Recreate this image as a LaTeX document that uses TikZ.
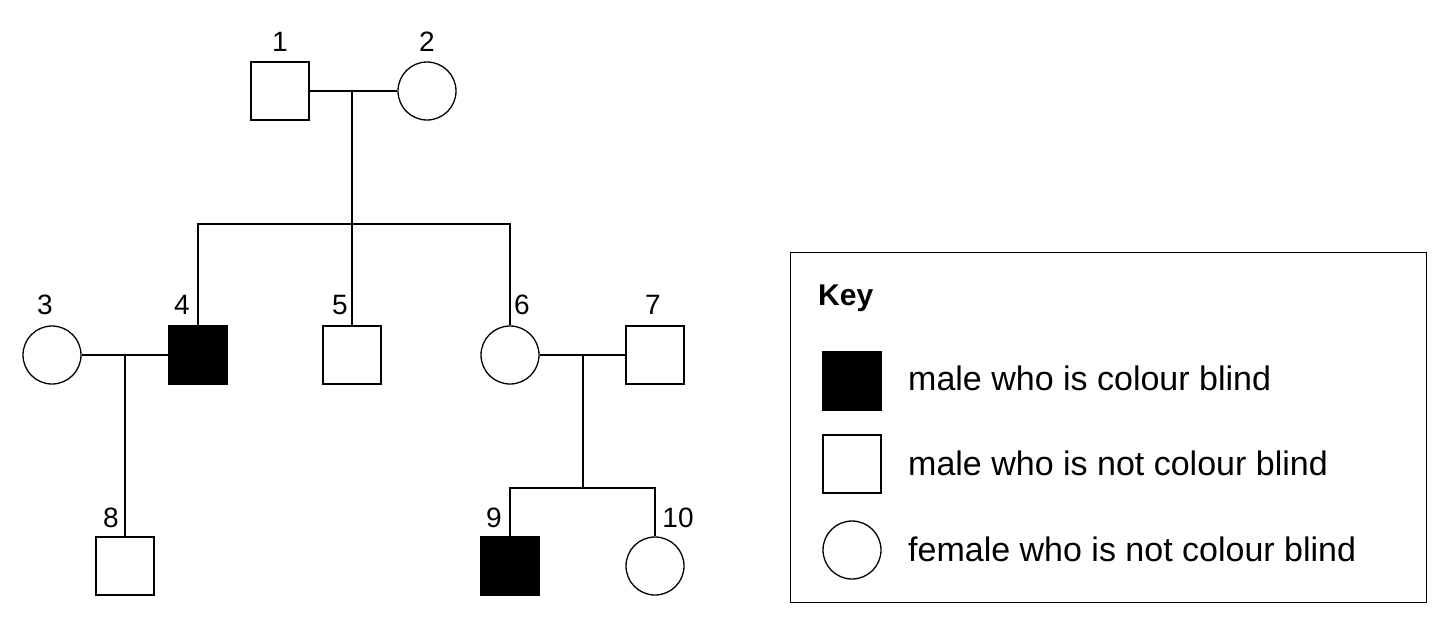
\documentclass[tikz,border=0pt]{standalone}
\usepackage{fontspec}
\setmainfont{Liberation Sans}
\begin{document}
\begin{tikzpicture}[x=1pt,y=-1pt,
  male/.style={draw,line width=1.3pt,minimum size=58pt,inner sep=0pt},
  cb/.style={male,fill=black},
  fem/.style={draw,circle,line width=1.3pt,minimum size=58pt,inner sep=0pt},
  lbl/.style={font=\fontsize{28}{32}\selectfont},
  ln/.style={line width=1.3pt},
  txt/.style={font=\fontsize{34}{40}\selectfont,anchor=west,inner sep=0pt}]
\useasboundingbox (0,0) rectangle (1440,624);
\node[male] (n1) at (280,91) {};
\node[fem] (n2) at (427,91) {};
\node[fem] (n3) at (52,355) {};
\node[cb] (n4) at (198,355) {};
\node[male] (n5) at (352,355) {};
\node[fem] (n6) at (510,355) {};
\node[male] (n7) at (655,355) {};
\node[male] (n8) at (125,566) {};
\node[cb] (n9) at (510,566) {};
\node[fem] (n10) at (655,566) {};
\foreach \n/\x/\y in {1/280/42,2/427/42,3/45/305,4/182/305,5/340/305,6/522/305,7/653/305,8/111/518,9/494/518,10/678/518}
  \node[lbl] (l\n) at (\x,\y) {\n};
\coordinate (m12) at (352,91);
\coordinate (s1) at (352,224);
\coordinate (m34) at (125,355);
\coordinate (m67) at (583,355);
\coordinate (s2) at (583,488);
\draw[ln] (n1) -- (n2);
\draw[ln] (m12) -- (s1);
\draw[ln] (n4.north) |- (s1) -| (n6.north);
\draw[ln] (s1) -- (n5.north);
\draw[ln] (n3) -- (n4);
\draw[ln] (m34) -- (n8.north);
\draw[ln] (n6) -- (n7);
\draw[ln] (m67) -- (s2);
\draw[ln] (n9.north) |- (s2) -| (n10.north);
% key
\node[draw,line width=1.3pt,minimum width=636pt,minimum height=350pt,anchor=north west] (key) at (790,252) {};
\node[txt,font=\fontsize{30}{36}\selectfont\bfseries] (kt) at (818,298) {Key};
\node[cb] (k1) at (852,381) {};
\node[male] (k2) at (852,464) {};
\node[fem] (k3) at (852,550) {};
\node[txt] (t1) at (908,378) {male who is colour blind};
\node[txt] (t2) at (908,463) {male who is not colour blind};
\node[txt] (t3) at (908,549) {female who is not colour blind};
\end{tikzpicture}
\end{document}
